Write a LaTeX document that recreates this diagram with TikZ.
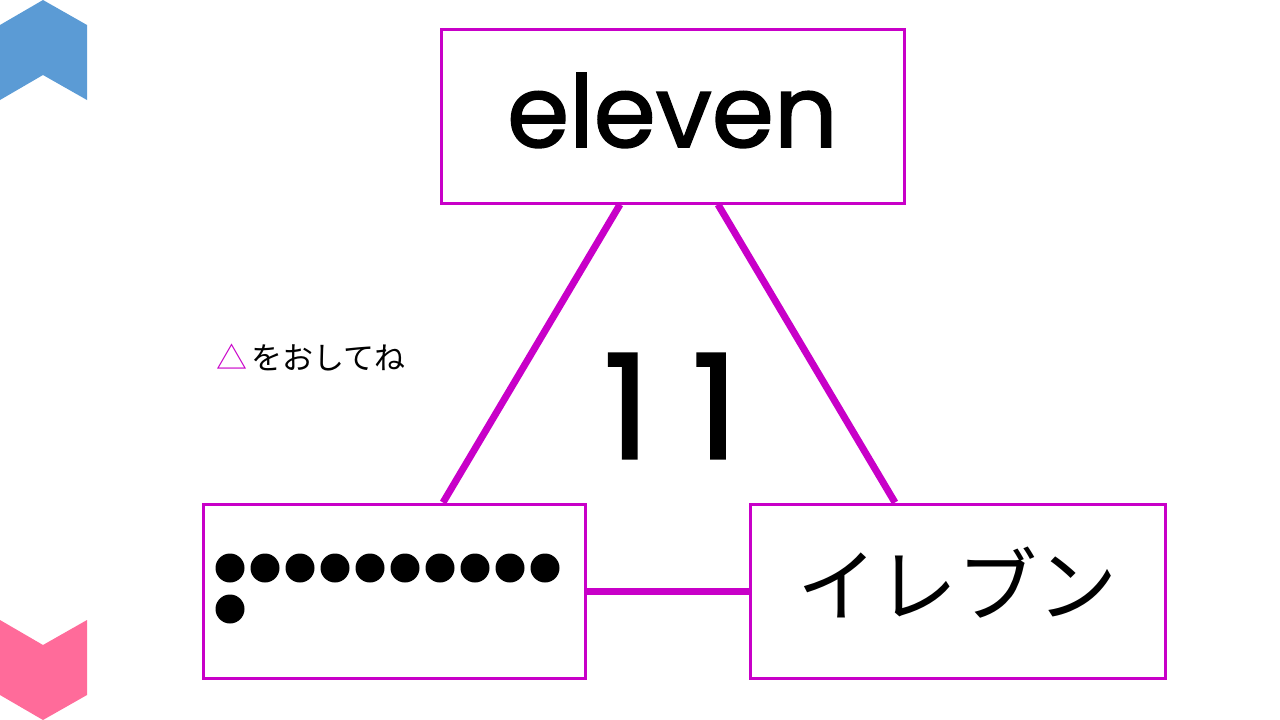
\documentclass[tikz,border=0pt]{standalone}
\usepackage{fontspec}
\setmainfont{Poppins}
\newfontfamily\latinbold[FakeBold=1.6]{Poppins}
\newfontfamily\jpfont{Noto Sans CJK JP}
\usetikzlibrary{positioning}
\definecolor{lineMag}{HTML}{C800C8}
\definecolor{tabBlue}{HTML}{5B9BD5}
\definecolor{tabPink}{HTML}{FF6B9A}

\begin{document}
\begin{tikzpicture}[x=1pt, y=-1pt,
            card/.style={draw=lineMag, line width=3pt, fill=white, minimum height=174pt, inner sep=0pt},
            link/.style={draw=lineMag, line width=7pt},
            bead/.style={circle, fill=black, minimum size=29pt, inner sep=0pt}
            ]
            \useasboundingbox (0,0) rectangle (1280,720);
            % Side tabs
            \fill[tabBlue] (0,25) -- (43,0) -- (87,25) -- (87,100) -- (43,75) -- (0,100) -- cycle;
            \fill[tabPink] (0,620) -- (43,645) -- (87,620) -- (87,695) -- (43,720) -- (0,695) -- cycle;
            % Cards
            \node[card, minimum width=463pt, font=\latinbold\fontsize{100}{110}\selectfont] (eng) at (672.5,116) {\raisebox{-31pt}[0pt][0pt]{eleven}};
            \node[card, minimum width=382pt] (dots) at (394,591) {};
            \node[card, minimum width=415pt, font=\jpfont\fontsize{80}{90}\selectfont] (kana) at (957.5,591) {\raisebox{20pt}{イレブン}};
            % Beads
            \foreach \i in {0,...,9}
              \node[bead] (b\i) at (230+35*\i,568) {};
            \node[bead] (b10) at (230,609) {};
            % Links
            \draw[link] ([xshift=-52.5pt]eng.south) -- ([xshift=49pt]dots.north);
            \draw[link] ([xshift=45.5pt]eng.south) -- ([xshift=-62.5pt]kana.north);
            \draw[link] (dots.east) -- (kana.west);
            % Number and hint
            \node[font=\latinbold\fontsize{145}{155}\selectfont] (num) at (671,406) {1\hspace{42pt}1};
            \node[font=\jpfont\fontsize{31}{36}\selectfont, anchor=west] (hint) at (213,357) {\textcolor{lineMag}{△}\hspace{4pt}をおしてね};
          \end{tikzpicture}
\end{document}
